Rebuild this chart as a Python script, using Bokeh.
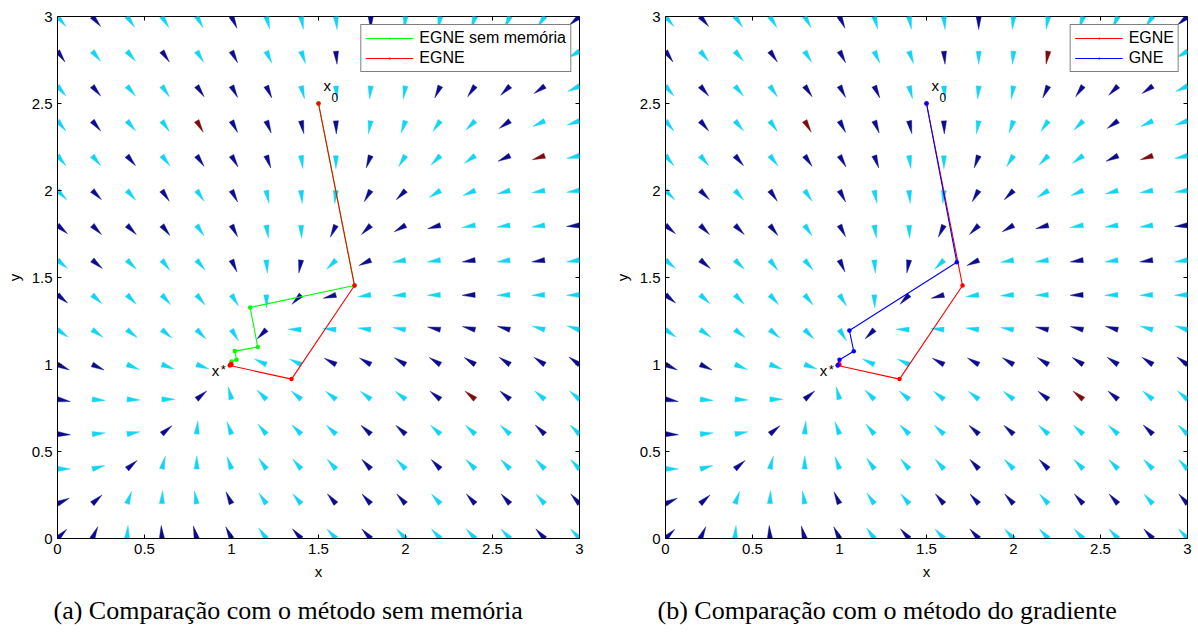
import math
from bokeh.plotting import figure
from bokeh.layouts import row
from bokeh.models import FixedTicker, Title, Legend, LegendItem, Label
from bokeh.embed import file_html
from bokeh.resources import INLINE

# ---------------- data ----------------
grid_x = [0.0, 0.2, 0.4, 0.6, 0.8, 1.0, 1.2, 1.4, 1.6, 1.8, 2.0, 2.2, 2.4, 2.6, 2.8, 3.0]
grid_y = [3.0, 2.8, 2.6, 2.4, 2.2, 2.0, 1.8, 1.6, 1.4, 1.2, 1.0, 0.8, 0.6, 0.4, 0.2, 0.0]

# direction of each cone (degrees, counter-clockwise from +x), rows follow grid_y
field_angle_deg = [
    [-50, -50, -55, -58, -60, -65, -75, -80, -85, -90, -95, -100, -108, -115, -125, -140],
    [-55, -50, -50, -55, -58, -62, -65, -70, -85, -90, -95, -100, -110, -120, -135, -150],
    [-50, -50, -50, -55, -55, -62, -65, -75, -85, -95, -100, -115, -125, -135, -145, -155],
    [-50, -50, -50, -55, -60, -62, -68, -78, -88, -100, -110, -125, -135, -145, -155, -162],
    [-50, -50, -50, -52, -55, -60, -70, -82, -90, -110, -122, -135, -145, -155, -162, -168],
    [-45, -45, -48, -55, -55, -62, -78, -85, -95, -120, -135, -148, -157, -165, -170, -172],
    [-40, -45, -45, -52, -55, -62, -80, -88, -115, -135, -150, -165, -170, -172, -172, -175],
    [-40, -40, -45, -52, -50, -65, -85, -100, -135, -155, -170, -172, -172, -172, -172, -172],
    [-39, -42, -45, -48, -50, -58, -88, -134, -165, -172, -176, -178, -178, -178, -178, -178],
    [-35, -35, -38, -40, -45, -58, -135, 178, 175, 172, 170, 168, 166, 165, 164, 163],
    [-25, -25, -22, -20, -20, None, 155, 155, 152, 150, 149, 148, 147, 146, 146, 145],
    [-10, -5, -3, 0, 40, 105, 135, 140, 142, 142, 142, 142, 141, 140, 140, 140],
    [-3, 5, 10, 40, 85, 110, 130, 135, 137, 138, 138, 138, 137, 137, 136, 136],
    [0, 15, 40, 75, 90, 110, 125, 130, 132, 133, 134, 134, 134, 134, 134, 134],
    [25, 42, 70, 87, 100, 115, 125, 130, 131, 132, 132, 132, 132, 132, 132, 132],
    [45, 65, 86, 93, 105, 116, 126, 132, 133, 133, 133, 133, 133, 133, 133, 133],
]

# colour class of each cone: c = cyan, b = dark blue, r = dark red
field_color_code = [
    "cbcccbcccbcccccb",
    "bccbcbccbccrcccc",
    "cbccbbbccccbbbbc",
    "cbccrbbbbccccbcc",
    "ccbcbbbccbcccbrc",
    "cbcbcbcccbbccccc",
    "bbbbcbccbbbbcccb",
    "cbcccbcbcbccbcbc",
    "bccccccbbcccbccc",
    "ccccccbccccbbbcc",
    "bbccc-ccbbbbbbbb",
    "bcccbccccccbrbcc",
    "bccbcccccbbcccbc",
    "ccbccccccbcbcccc",
    "bbcccbccbbbcbbcb",
    "bbcbbbcbcbccccbc",
]

egne_sm_x = [1.5, 1.707, 1.107, 1.151, 1.019, 1.029, 1.0, 0.995]
egne_sm_y = [2.5, 1.454, 1.328, 1.100, 1.077, 1.027, 1.017, 1.0]
egne_x = [1.5, 1.707, 1.345, 0.99, 0.996, 1.0]
egne_y = [2.5, 1.454, 0.916, 0.994, 1.002, 1.0]
gne_x = [1.5, 1.674, 1.057, 1.082, 1.0, 0.99]
gne_y = [2.5, 1.588, 1.195, 1.076, 1.027, 0.995]

x0_point = (1.5, 2.5)
xstar_point = (0.99, 0.994)

ticks = [0, 0.5, 1, 1.5, 2, 2.5, 3]
x_max, y_max = 3, 3

# ---------------- styling ----------------
PALETTE = {"c": "#14d4f4", "b": "#0c0c8c", "r": "#7c0c0c"}
CONE_LEN = 0.075
CONE_HALF_W = 0.015
SANS = "Liberation Sans"
SERIF = "Liberation Serif"


def cone_polys():
    xs, ys, cols = [], [], []
    for i, yv in enumerate(grid_y):
        for j, xv in enumerate(grid_x):
            a = field_angle_deg[i][j]
            if a is None:
                continue
            t = math.radians(a)
            c, s = math.cos(t), math.sin(t)
            xs.append([xv - CONE_HALF_W * s, xv + CONE_LEN * c, xv + CONE_HALF_W * s])
            ys.append([yv + CONE_HALF_W * c, yv + CONE_LEN * s, yv - CONE_HALF_W * c])
            cols.append(PALETTE[field_color_code[i][j]])
    return xs, ys, cols


def style_axis(ax):
    ax.ticker = FixedTicker(ticks=ticks)
    ax.major_tick_in = 4
    ax.major_tick_out = 0
    ax.minor_tick_in = 0
    ax.minor_tick_out = 0
    ax.axis_line_color = "black"
    ax.axis_line_width = 1
    ax.major_tick_line_color = "black"
    ax.major_label_text_font = SANS
    ax.major_label_text_font_size = "15px"
    ax.major_label_text_color = "black"
    ax.major_label_standoff = 5
    ax.axis_label_text_font = SANS
    ax.axis_label_text_font_size = "15px"
    ax.axis_label_text_font_style = "normal"
    ax.axis_label_text_color = "black"
    ax.axis_label_standoff = 6


def make_panel(series, caption, b_left, b_right, cap_offset):
    p = figure(frame_width=522, frame_height=522, x_range=(0, 3), y_range=(0, 3),
               output_backend="svg", toolbar_location=None,
               min_border_left=b_left, min_border_right=b_right,
               min_border_top=16, min_border_bottom=92)
    p.grid.visible = False
    p.outline_line_color = "black"
    p.outline_line_width = 1
    p.background_fill_color = "white"
    p.border_fill_color = "white"
    style_axis(p.xaxis[0])
    style_axis(p.yaxis[0])
    p.xaxis.axis_label = "x"
    p.yaxis.axis_label = "y"

    # inward tick marks on the top and right edges of the box
    p.scatter(ticks, [y_max] * len(ticks), marker="dash", angle=math.pi / 2, size=8,
              line_color="black", line_width=1)
    p.scatter([x_max] * len(ticks), ticks, marker="dash", angle=0, size=8,
              line_color="black", line_width=1)

    xs, ys, cols = cone_polys()
    p.patches(xs, ys, fill_color=cols, line_color=cols, line_width=0.4)

    items = []
    for label, sx, sy, color in series:
        lr = p.line(sx, sy, line_color=color, line_width=1.1)
        sr = p.scatter(sx, sy, marker="dot", size=18, line_color=color, fill_color=color,
                       line_width=2)
        items.append(LegendItem(label=label, renderers=[lr, sr]))
    leg = Legend(items=items, location="top_right")
    leg.label_text_font = SANS
    leg.label_text_font_size = "16px"
    leg.label_text_color = "black"
    leg.border_line_color = "black"
    leg.border_line_width = 1
    leg.background_fill_color = "white"
    leg.background_fill_alpha = 1
    leg.glyph_width = 48
    leg.glyph_height = 18
    leg.label_height = 18
    leg.spacing = 2
    leg.padding = 4
    leg.margin = 8
    leg.label_standoff = 6
    p.add_layout(leg)

    p.add_layout(Label(x=x0_point[0], y=x0_point[1], x_offset=5, y_offset=10, text="x",
                       text_font=SANS, text_font_size="15px", text_color="black"))
    p.add_layout(Label(x=x0_point[0], y=x0_point[1], x_offset=13, y_offset=2, text="0",
                       text_font=SANS, text_font_size="12px", text_color="black"))
    p.add_layout(Label(x=xstar_point[0], y=xstar_point[1], x_offset=-18, y_offset=-13, text="x",
                       text_font=SANS, text_font_size="15px", text_color="black"))
    p.add_layout(Label(x=xstar_point[0], y=xstar_point[1], x_offset=-9, y_offset=-11, text="*",
                       text_font=SANS, text_font_size="13px", text_color="black"))

    p.add_layout(Title(text=caption, text_font=SERIF, text_font_size="26px",
                       text_font_style="normal", text_color="black", align="left",
                       offset=cap_offset, standoff=22), "below")
    return p


pa = make_panel([("EGNE sem memória", egne_sm_x, egne_sm_y, "#00ff00"),
                 ("EGNE", egne_x, egne_y, "#ff0000")],
                "(a) Comparação com o método sem memória", 57, 29, -4)
pb = make_panel([("EGNE", egne_x, egne_y, "#ff0000"),
                 ("GNE", gne_x, gne_y, "#0000ff")],
                "(b) Comparação com o método do gradiente", 57, 11, -8)

layout = row(pa, pb)
html = file_html(layout, INLINE, title="plot")
with open("out.html", "w", encoding="utf-8") as f:
    f.write(html)
